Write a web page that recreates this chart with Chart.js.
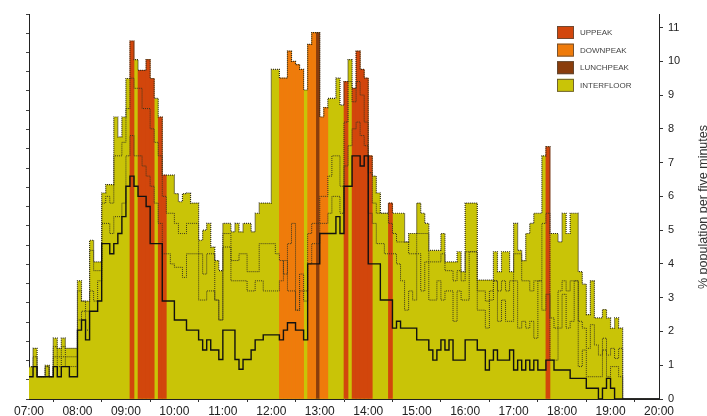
<!DOCTYPE html>
<html>
<head>
<meta charset="utf-8">
<script src="https://cdn.jsdelivr.net/npm/chart.js@4.4.1/dist/chart.umd.min.js"></script>
<style>
  html, body { margin: 0; padding: 0; background: #ffffff; }
  #wrap { width: 707px; height: 416px; }
</style>
</head>
<body>
<div id="wrap"><canvas id="trafficChart" width="707" height="416"></canvas></div>
<script>
// five-minute bins from 07:00 to 20:00 (12 per line = one hour)
var totalPct = [
    0.96, 1.5, 0.66, 0.66, 1.0, 0.66, 1.8, 1.5, 1.8, 1.5, 1.5, 1.5,
    3.5, 2.9, 2.9, 4.7, 4.06, 4.06, 6.1, 6.35, 6.35, 8.35, 7.76, 8.35,
    9.49, 10.6, 10.05, 9.73, 9.73, 10.05, 9.49, 8.9, 8.35, 6.63, 6.63, 6.63,
    6.08, 5.84, 6.08, 6.1, 5.8, 5.8, 4.7, 5.0, 5.2, 4.5, 4.1, 3.8,
    5.2, 5.2, 4.95, 5.2, 4.95, 5.2, 5.2, 4.95, 5.5, 5.8, 5.8, 5.8,
    9.76, 9.76, 9.5, 9.5, 10.3, 10.0, 9.9, 9.76, 9.15, 10.5, 10.85, 10.85,
    8.35, 8.63, 8.9, 8.9, 9.5, 8.7, 9.4, 10.05, 9.2, 10.3, 9.76, 9.5,
    7.2, 6.6, 6.1, 5.5, 5.5, 5.8, 5.5, 5.5, 5.5, 4.65, 4.9, 4.9,
    5.8, 5.5, 5.2, 4.4, 4.4, 4.4, 4.9, 4.06, 4.06, 4.06, 4.36, 3.77,
    5.8, 5.8, 5.8, 3.52, 3.52, 3.52, 3.52, 4.36, 3.77, 4.36, 4.36, 3.77,
    5.2, 4.4, 4.1, 4.9, 5.2, 5.5, 5.5, 7.2, 7.47, 4.9, 4.9, 4.65,
    5.5, 4.9, 5.5, 5.5, 3.77, 3.4, 2.5, 3.5, 2.4, 2.4, 2.65, 2.4,
    2.1, 2.4, 2.1, 0, 0, 0, 0, 0, 0, 0, 0, 0
];
var upperDotted = [
    0.96, 1.25, 0.66, 0.66, 0.96, 0.66, 1.55, 1.25, 1.55, 1.25, 1.25, 1.25,
    3.2, 2.9, 2.6, 4.4, 3.8, 3.8, 5.8, 6.0, 5.8, 7.2, 7.2, 7.6,
    8.6, 9.5, 9.2, 9.2, 8.6, 8.6, 8.0, 7.6, 7.2, 6.0, 5.5, 5.5,
    5.2, 4.9, 4.9, 5.2, 5.2, 5.2, 4.3, 3.7, 4.3, 4.3, 2.93, 2.34,
    4.9, 4.9, 4.1, 4.1, 4.3, 4.3, 3.77, 3.77, 3.77, 4.6, 4.6, 4.6,
    4.6, 4.3, 4.1, 3.7, 4.6, 5.2, 2.63, 3.7, 3.2, 4.9, 5.2, 5.2,
    6.0, 6.0, 6.6, 7.2, 7.2, 6.3, 8.2, 9.4, 8.8, 9.4, 9.0, 8.2,
    6.7, 5.8, 5.5, 5.5, 5.5, 5.2, 4.9, 4.65, 4.65, 4.65, 4.3, 4.3,
    4.9, 4.9, 4.9, 4.06, 4.06, 4.06, 4.3, 3.8, 3.8, 3.5, 3.8, 3.5,
    4.36, 4.36, 4.36, 3.2, 3.2, 2.9, 3.2, 3.5, 3.2, 3.5, 3.2, 3.5,
    4.3, 4.3, 3.5, 3.5, 3.2, 3.5, 3.5, 5.2, 5.5, 2.4, 2.1, 3.2,
    3.5, 3.2, 3.5, 3.5, 2.3, 2.1, 1.5, 2.2, 1.6, 1.3, 1.8, 1.3,
    1.5, 1.2, 1.5, 0, 0, 0, 0, 0, 0, 0, 0, 0
];
var lowerDotted = [
    0.96, 0.96, 0.66, 0.66, 0.96, 0.66, 1.25, 0.96, 1.25, 0.96, 0.96, 0.96,
    2.34, 2.6, 2.04, 3.2, 2.9, 3.5, 5.2, 5.2, 4.9, 5.4, 5.4, 5.8,
    7.2, 7.8, 7.2, 7.2, 6.9, 6.6, 6.3, 5.8, 5.2, 4.3, 4.3, 4.0,
    3.9, 3.9, 3.6, 4.3, 4.3, 4.3, 2.93, 2.93, 3.2, 3.2, 2.93, 2.34,
    4.5, 4.5, 3.5, 3.5, 3.5, 3.5, 3.2, 3.2, 3.5, 3.5, 3.2, 3.2,
    3.2, 3.2, 3.5, 4.1, 3.2, 3.2, 2.63, 3.2, 2.9, 4.0, 4.6, 4.6,
    5.2, 5.2, 5.5, 6.0, 6.0, 5.5, 6.9, 7.5, 8.0, 8.2, 7.8, 7.5,
    5.5, 5.2, 4.6, 4.6, 4.3, 4.3, 4.3, 4.0, 3.5, 2.63, 3.2, 2.93,
    4.3, 3.2, 4.06, 2.93, 2.93, 3.5, 2.93, 3.2, 3.2, 2.3, 3.2, 2.93,
    2.93, 4.36, 4.36, 2.63, 2.63, 2.1, 2.93, 3.5, 2.3, 2.93, 2.3, 2.3,
    3.5, 2.1, 2.3, 2.1, 2.3, 1.8, 3.5, 2.63, 3.1, 1.15, 1.15, 2.1,
    3.1, 2.1, 2.3, 3.5, 0.96, 1.45, 0.66, 0.66, 0.66, 0.66, 1.45, 0.66,
    0.96, 0.96, 0.66, 0, 0, 0, 0, 0, 0, 0, 0, 0
];
var solidLine = [
    0.66, 0.96, 0.66, 0.66, 0.66, 0.66, 0.96, 0.66, 0.96, 0.96, 0.66, 0.66,
    2.04, 2.34, 1.75, 2.6, 2.6, 2.9, 4.6, 4.6, 4.3, 4.6, 4.9, 5.4,
    6.3, 6.6, 6.3, 6.0, 6.0, 5.7, 4.6, 4.6, 4.6, 2.9, 2.9, 2.9,
    2.34, 2.34, 2.34, 2.04, 2.04, 2.04, 1.75, 1.45, 1.75, 1.45, 1.45, 1.17,
    2.04, 2.04, 2.04, 1.17, 0.88, 1.17, 1.17, 1.45, 1.75, 1.75, 1.9, 1.9,
    1.9, 1.9, 1.75, 2.04, 2.26, 2.26, 2.04, 2.04, 1.75, 4.0, 4.0, 4.0,
    4.9, 4.9, 4.9, 4.9, 5.4, 4.9, 6.3, 6.3, 7.2, 7.2, 6.9, 7.2,
    4.0, 4.0, 4.0, 2.93, 2.93, 2.93, 2.1, 2.3, 2.1, 2.1, 2.1, 2.1,
    1.75, 1.75, 1.75, 1.45, 1.15, 1.45, 1.75, 1.45, 1.75, 1.15, 1.15, 1.15,
    1.75, 1.75, 1.75, 1.45, 1.45, 0.86, 1.15, 1.45, 1.15, 1.15, 1.15, 1.45,
    0.86, 1.15, 0.86, 1.15, 0.86, 1.15, 0.86, 0.86, 1.15, 1.15, 0.86, 0.86,
    0.86, 0.86, 0.61, 0.61, 0.61, 0.61, 0.32, 0.32, 0.32, 0, 0.32, 0.61,
    0.32, 0, 0, 0, 0, 0, 0, 0, 0, 0, 0, 0
];
// bins classified as a traffic peak (everything else is interfloor)
var uppeakBins = [25, 27, 28, 29, 30, 32, 33, 78, 80, 81, 82, 83, 84, 89, 128];
var downpeakBins = [62, 63, 64, 65, 66, 67, 69, 70, 72, 73];
var lunchpeakBins = [71];
var hourLabels = ['07:00', '08:00', '09:00', '10:00', '11:00', '12:00', '13:00',
    '14:00', '15:00', '16:00', '17:00', '18:00', '19:00', '20:00'];

var colors = {
    uppeak: '#d2460c',
    downpeak: '#ef7b0b',
    lunchpeak: '#8a3d0c',
    interfloor: '#c9c407'
};

function steps(arr) {
    var pts = arr.map(function (v, i) { return { x: i, y: v }; });
    pts.push({ x: arr.length, y: arr[arr.length - 1] });
    return pts;
}

function barsFor(bins) {
    return totalPct.map(function (v, i) {
        return { x: i + 0.5, y: bins.indexOf(i) >= 0 ? v : null };
    });
}

function barSet(label, bins, color) {
    return {
        label: label,
        data: barsFor(bins),
        backgroundColor: color,
        borderWidth: 0,
        grouped: false,
        barPercentage: 1,
        categoryPercentage: 1,
        yAxisID: 'y',
        order: 5
    };
}

function stepLine(label, arr, color, width, dash, order) {
    return {
        type: 'line',
        label: label,
        data: steps(arr),
        stepped: true,
        fill: false,
        borderColor: color,
        borderWidth: width,
        borderDash: dash,
        pointRadius: 0,
        yAxisID: 'y',
        order: order
    };
}

// legend drawn inside the plot, top right
var legendBoxes = {
    id: 'legendBoxes',
    afterDraw: function (chart) {
        var ctx = chart.ctx;
        var items = [
            ['UPPEAK', colors.uppeak],
            ['DOWNPEAK', colors.downpeak],
            ['LUNCHPEAK', colors.lunchpeak],
            ['INTERFLOOR', colors.interfloor]
        ];
        ctx.save();
        ctx.font = '8px "Liberation Sans", Arial, sans-serif';
        ctx.textBaseline = 'middle';
        items.forEach(function (it, i) {
            var y = 26 + i * 17.6;
            ctx.fillStyle = it[1];
            ctx.fillRect(557, y, 17, 13);
            ctx.strokeStyle = '#5a4a3a';
            ctx.lineWidth = 0.8;
            ctx.strokeRect(557.5, y + 0.5, 16, 12);
            ctx.fillStyle = '#444';
            ctx.fillText(it[0], 580, y + 7);
        });
        ctx.restore();
    }
};

// right axis title, reading upwards
var rightTitle = {
    id: 'rightTitle',
    afterDraw: function (chart) {
        var ctx = chart.ctx;
        ctx.save();
        ctx.translate(704, 207);
        ctx.rotate(-Math.PI / 2);
        ctx.font = '12.5px "Liberation Sans", Arial, sans-serif';
        ctx.fillStyle = '#333';
        ctx.textAlign = 'center';
        ctx.textBaseline = 'middle';
        ctx.fillText('% population per five minutes', 0, 0);
        ctx.restore();
    }
};

document.addEventListener('DOMContentLoaded', function () {
    var ctx = document.getElementById('trafficChart').getContext('2d');
    var trafficChart = new Chart(ctx, {
        type: 'bar',
        data: {
            datasets: [
                {
                    type: 'line',
                    label: 'INTERFLOOR',
                    data: steps(totalPct),
                    stepped: true,
                    fill: 'origin',
                    backgroundColor: colors.interfloor,
                    borderWidth: 0,
                    pointRadius: 0,
                    yAxisID: 'y',
                    order: 10
                },
                barSet('UPPEAK', uppeakBins, colors.uppeak),
                barSet('DOWNPEAK', downpeakBins, colors.downpeak),
                barSet('LUNCHPEAK', lunchpeakBins, colors.lunchpeak),
                stepLine('total', totalPct, '#2e2a1a', 1.2, [1, 1], 3),
                stepLine('upper', upperDotted, '#3a3620', 1, [1, 1], 2),
                stepLine('lower', lowerDotted, '#3a3620', 1, [1, 1], 2),
                stepLine('solid', solidLine, '#111111', 1.4, [], 1)
            ]
        },
        options: {
            responsive: false,
            animation: false,
            layout: { padding: { top: 14 } },
            plugins: {
                legend: { display: false },
                tooltip: { enabled: false }
            },
            scales: {
                x: {
                    type: 'linear',
                    min: 0,
                    max: 156,
                    offset: false,
                    grid: { drawOnChartArea: false, tickLength: 3, color: '#333' },
                    border: { color: '#222' },
                    ticks: {
                        stepSize: 12,
                        autoSkip: false,
                        maxRotation: 0,
                        padding: 2,
                        color: '#222',
                        font: { family: '"Liberation Sans", Arial, sans-serif', size: 12 },
                        callback: function (v) { return hourLabels[v / 12]; }
                    },
                    afterFit: function (s) { s.height = 17; }
                },
                y: {
                    position: 'right',
                    min: 0,
                    max: 11.4,
                    grid: { drawOnChartArea: false, tickLength: 4, color: '#333' },
                    border: { color: '#222' },
                    ticks: {
                        stepSize: 1,
                        autoSkip: false,
                        padding: 5,
                        color: '#222',
                        font: { family: '"Liberation Sans", Arial, sans-serif', size: 11 }
                    },
                    afterBuildTicks: function (s) {
                        s.ticks = s.ticks.filter(function (t) { return Number.isInteger(t.value); });
                    },
                    afterFit: function (s) { s.width = 48; }
                },
                yLeft: {
                    position: 'left',
                    min: 0,
                    max: 20,
                    grid: { drawOnChartArea: false, tickLength: 3, color: '#444' },
                    border: { color: '#222' },
                    ticks: { stepSize: 1, autoSkip: false, display: false },
                    afterFit: function (s) { s.width = 29; }
                }
            }
        },
        plugins: [legendBoxes, rightTitle]
    });
});
</script>
</body>
</html>
